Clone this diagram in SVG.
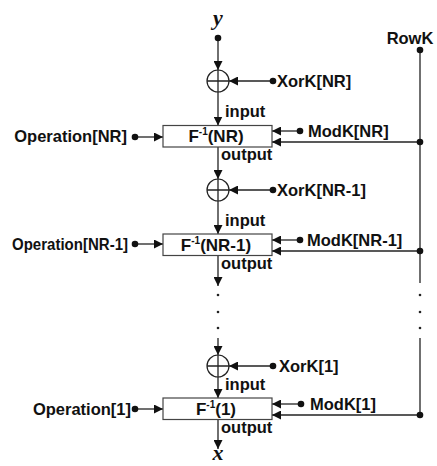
<svg xmlns="http://www.w3.org/2000/svg" width="437" height="466" viewBox="0 0 437 466">
<style>
.ln{stroke:#222;stroke-width:1.3;fill:none}
.box{stroke:#444;stroke-width:1.2;fill:#fff}
.xor{stroke:#222;stroke-width:1.2;fill:#fff}
.t{font-family:"Liberation Sans",Arial,sans-serif;font-weight:bold;font-size:16.5px;fill:#111}
.bt{font-family:"Liberation Sans",Arial,sans-serif;font-weight:bold;font-size:17px;fill:#111}
.v{font-family:"Liberation Serif","Times New Roman",serif;font-weight:bold;font-style:italic;font-size:22px;fill:#111}
.dot{fill:#111}
.sd{fill:#222}
</style>
<defs>
<marker id="ah" viewBox="0 0 10 10" refX="10" refY="5" markerWidth="9" markerHeight="9" markerUnits="userSpaceOnUse" orient="auto">
<path d="M0,0 L10,5 L0,10 z" fill="#111"/>
</marker>
</defs>
<rect width="437" height="466" fill="#fff"/>

<g id="connectors">
  <line class="ln" x1="218" y1="38" x2="218" y2="70" marker-end="url(#ah)"/>
  <line class="ln" x1="218" y1="92" x2="218" y2="125.5" marker-end="url(#ah)"/>
  <line class="ln" x1="218" y1="147" x2="218" y2="179" marker-end="url(#ah)"/>
  <line class="ln" x1="218" y1="201" x2="218" y2="234" marker-end="url(#ah)"/>
  <line class="ln" x1="218" y1="256" x2="218" y2="286" marker-end="url(#ah)"/>
  <line class="ln" x1="218" y1="338" x2="218" y2="355" marker-end="url(#ah)"/>
  <line class="ln" x1="218" y1="377" x2="218" y2="398" marker-end="url(#ah)"/>
  <line class="ln" x1="218" y1="420" x2="218" y2="449" marker-end="url(#ah)"/>
  <line class="ln" x1="273" y1="81" x2="229" y2="81" marker-end="url(#ah)"/>
  <line class="ln" x1="273" y1="190" x2="229" y2="190" marker-end="url(#ah)"/>
  <line class="ln" x1="273" y1="366" x2="229" y2="366" marker-end="url(#ah)"/>
  <line class="ln" x1="135" y1="137" x2="163" y2="137" marker-end="url(#ah)"/>
  <line class="ln" x1="135" y1="244" x2="163" y2="244" marker-end="url(#ah)"/>
  <line class="ln" x1="135" y1="409" x2="163" y2="409" marker-end="url(#ah)"/>
  <line class="ln" x1="300" y1="131" x2="272" y2="131" marker-end="url(#ah)"/>
  <line class="ln" x1="300" y1="240" x2="272" y2="240" marker-end="url(#ah)"/>
  <line class="ln" x1="301" y1="404" x2="272" y2="404" marker-end="url(#ah)"/>
  <line class="ln" x1="420" y1="50" x2="420" y2="283"/>
  <line class="ln" x1="420" y1="338" x2="420" y2="415"/>
  <line class="ln" x1="420" y1="142" x2="272" y2="142" marker-end="url(#ah)"/>
  <line class="ln" x1="420" y1="251" x2="272" y2="251" marker-end="url(#ah)"/>
  <line class="ln" x1="420" y1="415" x2="272" y2="415" marker-end="url(#ah)"/>
  <circle class="dot" cx="218" cy="38" r="3.3"/>
  <circle class="dot" cx="420" cy="50" r="3.3"/>
  <circle class="dot" cx="273" cy="81" r="3.3"/>
  <circle class="dot" cx="273" cy="190" r="3.3"/>
  <circle class="dot" cx="273" cy="366" r="3.3"/>
  <circle class="dot" cx="135" cy="137" r="3.3"/>
  <circle class="dot" cx="135" cy="244" r="3.3"/>
  <circle class="dot" cx="135" cy="409" r="3.3"/>
  <circle class="dot" cx="300" cy="131" r="3.3"/>
  <circle class="dot" cx="300" cy="240" r="3.3"/>
  <circle class="dot" cx="301" cy="404" r="3.3"/>
  <circle class="dot" cx="420" cy="142" r="3.3"/>
  <circle class="dot" cx="420" cy="251" r="3.3"/>
  <circle class="dot" cx="420" cy="415" r="3.3"/>
  <circle class="sd" cx="218" cy="295" r="1.3"/>
  <circle class="sd" cx="218" cy="312" r="1.3"/>
  <circle class="sd" cx="218" cy="328" r="1.3"/>
  <circle class="sd" cx="420" cy="295" r="1.3"/>
  <circle class="sd" cx="420" cy="312" r="1.3"/>
  <circle class="sd" cx="420" cy="328" r="1.3"/>
  <text class="t" x="225" y="117">input</text>
  <text class="t" x="221" y="160">output</text>
  <text class="t" x="225" y="226">input</text>
  <text class="t" x="221" y="269">output</text>
  <text class="t" x="225" y="390">input</text>
  <text class="t" x="221" y="433">output</text>
</g>

<g id="y-in"><text class="v" x="218" y="25" text-anchor="middle">y</text></g>
<g id="x-out"><text class="v" x="218" y="460" text-anchor="middle">x</text></g>
<g id="rowk"><text class="t" x="410" y="44" text-anchor="middle">RowK</text></g>

<g id="xor-nr">
  <circle class="xor" cx="218" cy="81" r="11"/>
  <path class="ln" d="M207,81 H229 M218,70 V92"/>
  <text class="t" x="277" y="87">XorK[NR]</text>
</g>
<g id="xor-nr1">
  <circle class="xor" cx="218" cy="190" r="11"/>
  <path class="ln" d="M207,190 H229 M218,179 V201"/>
  <text class="t" x="277" y="196">XorK[NR-1]</text>
</g>
<g id="xor-1">
  <circle class="xor" cx="218" cy="366" r="11"/>
  <path class="ln" d="M207,366 H229 M218,355 V377"/>
  <text class="t" x="279" y="372">XorK[1]</text>
</g>

<g id="f-nr">
  <rect class="box" x="163" y="125.5" width="109" height="21.5"/>
  <text class="bt" x="216" y="142" text-anchor="middle">F<tspan font-size="10" dy="-7">-1</tspan><tspan dy="7">(NR)</tspan></text>
  <text class="t" x="127" y="142" text-anchor="end">Operation[NR]</text>
  <text class="t" x="308" y="137">ModK[NR]</text>
</g>
<g id="f-nr1">
  <rect class="box" x="163" y="234" width="109" height="21.5"/>
  <text class="bt" x="216" y="251" text-anchor="middle">F<tspan font-size="10" dy="-7">-1</tspan><tspan dy="7">(NR-1)</tspan></text>
  <text class="t" x="128" y="250" text-anchor="end" textLength="116" lengthAdjust="spacingAndGlyphs">Operation[NR-1]</text>
  <text class="t" x="307" y="246">ModK[NR-1]</text>
</g>
<g id="f-1">
  <rect class="box" x="163" y="398" width="109" height="21.5"/>
  <text class="bt" x="216" y="415" text-anchor="middle">F<tspan font-size="10" dy="-7">-1</tspan><tspan dy="7">(1)</tspan></text>
  <text class="t" x="131" y="415" text-anchor="end">Operation[1]</text>
  <text class="t" x="310" y="410">ModK[1]</text>
</g>
</svg>
